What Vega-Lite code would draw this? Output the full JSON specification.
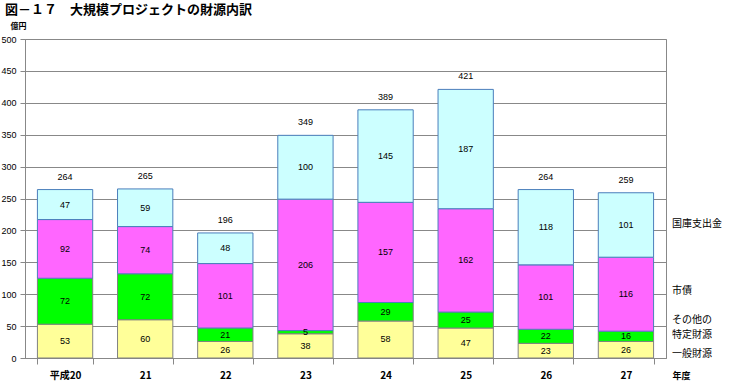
{
  "$schema": "https://vega.github.io/schema/vega-lite/v6.json",
  "width": 641,
  "height": 319,
  "autosize": {"type": "none"},
  "padding": {"left": 25, "top": 39, "right": 66, "bottom": 23},
  "background": "white",
  "title": {
    "text": "図－１７　大規模プロジェクトの財源内訳",
    "anchor": "start",
    "frame": "group",
    "dx": -20,
    "offset": -8,
    "baseline": "bottom",
    "font": "Noto Sans CJK JP",
    "fontSize": 13,
    "fontWeight": "bold",
    "color": "#000000"
  },
  "config": {
    "view": {"stroke": "#888888", "strokeWidth": 1},
    "font": "Liberation Sans",
    "axis": {"domainColor": "#888888", "tickColor": "#888888", "gridColor": "#888888", "labelColor": "#000000", "titleColor": "#000000"}
  },
  "resolve": {"axis": {"y": "independent"}},
  "datasets": {
    "fin": [
      {"year": "平成20", "series": "一般財源", "label": "一般財源", "order": 1, "value": 53},
      {"year": "平成20", "series": "その他の特定財源", "label": "その他の\n特定財源", "order": 2, "value": 72},
      {"year": "平成20", "series": "市債", "label": "市債", "order": 3, "value": 92},
      {"year": "平成20", "series": "国庫支出金", "label": "国庫支出金", "order": 4, "value": 47},
      {"year": "21", "series": "一般財源", "label": "一般財源", "order": 1, "value": 60},
      {"year": "21", "series": "その他の特定財源", "label": "その他の\n特定財源", "order": 2, "value": 72},
      {"year": "21", "series": "市債", "label": "市債", "order": 3, "value": 74},
      {"year": "21", "series": "国庫支出金", "label": "国庫支出金", "order": 4, "value": 59},
      {"year": "22", "series": "一般財源", "label": "一般財源", "order": 1, "value": 26},
      {"year": "22", "series": "その他の特定財源", "label": "その他の\n特定財源", "order": 2, "value": 21},
      {"year": "22", "series": "市債", "label": "市債", "order": 3, "value": 101},
      {"year": "22", "series": "国庫支出金", "label": "国庫支出金", "order": 4, "value": 48},
      {"year": "23", "series": "一般財源", "label": "一般財源", "order": 1, "value": 38},
      {"year": "23", "series": "その他の特定財源", "label": "その他の\n特定財源", "order": 2, "value": 5},
      {"year": "23", "series": "市債", "label": "市債", "order": 3, "value": 206},
      {"year": "23", "series": "国庫支出金", "label": "国庫支出金", "order": 4, "value": 100},
      {"year": "24", "series": "一般財源", "label": "一般財源", "order": 1, "value": 58},
      {"year": "24", "series": "その他の特定財源", "label": "その他の\n特定財源", "order": 2, "value": 29},
      {"year": "24", "series": "市債", "label": "市債", "order": 3, "value": 157},
      {"year": "24", "series": "国庫支出金", "label": "国庫支出金", "order": 4, "value": 145},
      {"year": "25", "series": "一般財源", "label": "一般財源", "order": 1, "value": 47},
      {"year": "25", "series": "その他の特定財源", "label": "その他の\n特定財源", "order": 2, "value": 25},
      {"year": "25", "series": "市債", "label": "市債", "order": 3, "value": 162},
      {"year": "25", "series": "国庫支出金", "label": "国庫支出金", "order": 4, "value": 187},
      {"year": "26", "series": "一般財源", "label": "一般財源", "order": 1, "value": 23},
      {"year": "26", "series": "その他の特定財源", "label": "その他の\n特定財源", "order": 2, "value": 22},
      {"year": "26", "series": "市債", "label": "市債", "order": 3, "value": 101},
      {"year": "26", "series": "国庫支出金", "label": "国庫支出金", "order": 4, "value": 118},
      {"year": "27", "series": "一般財源", "label": "一般財源", "order": 1, "value": 26},
      {"year": "27", "series": "その他の特定財源", "label": "その他の\n特定財源", "order": 2, "value": 16},
      {"year": "27", "series": "市債", "label": "市債", "order": 3, "value": 116},
      {"year": "27", "series": "国庫支出金", "label": "国庫支出金", "order": 4, "value": 101}
    ]
  },
  "data": {"name": "fin"},
  "encoding": {
    "x": {
      "field": "year",
      "type": "nominal",
      "sort": null,
      "scale": {"paddingInner": 0.31, "paddingOuter": 0.155},
      "axis": {
        "orient": "bottom",
        "title": "年度",
        "titleFont": "Noto Sans CJK JP",
        "titleFontSize": 9,
        "titleFontWeight": "bold",
        "titleAngle": 0,
        "titleX": 656,
        "titleY": 17,
        "titleAlign": "center",
        "titleBaseline": "middle",
        "labelAngle": 0,
        "labelFont": "Noto Sans CJK JP",
        "labelFontSize": 10,
        "labelFontWeight": "bold",
        "labelPadding": 6,
        "tickBand": "extent",
        "tickSize": 6,
        "grid": false
      }
    }
  },
  "layer": [
    {
      "mark": {"type": "bar", "strokeWidth": 1},
      "encoding": {
        "y": {
          "field": "value",
          "type": "quantitative",
          "stack": "zero",
          "scale": {"domain": [0, 500], "nice": false},
          "axis": {
            "orient": "left",
            "values": [0, 50, 100, 150, 200, 250, 300, 350, 400, 450, 500],
            "labelOverlap": false,
            "grid": true,
            "tickSize": 5,
            "labelPadding": 4,
            "labelFontSize": 9,
            "labelFont": "Liberation Sans",
            "title": "億円",
            "titleFont": "Noto Sans CJK JP",
            "titleFontSize": 8,
            "titleFontWeight": "bold",
            "titleAngle": 0,
            "titleX": -7,
            "titleY": -13,
            "titleAlign": "center",
            "titleBaseline": "middle"
          }
        },
        "order": {"field": "order", "type": "quantitative"},
        "fill": {
          "field": "series",
          "type": "nominal",
          "scale": {"domain": ["一般財源", "その他の特定財源", "市債", "国庫支出金"], "range": ["#FFFF99", "#00FF00", "#FF66FF", "#CCFFFF"]},
          "legend": null
        },
        "stroke": {
          "field": "series",
          "type": "nominal",
          "scale": {"domain": ["一般財源", "その他の特定財源", "市債", "国庫支出金"], "range": ["#808080", "#808080", "#4A7EBB", "#4A7EBB"]},
          "legend": null
        }
      }
    },
    {
      "mark": {"type": "text", "baseline": "middle", "fontSize": 9, "color": "#000000"},
      "encoding": {
        "y": {"field": "value", "type": "quantitative", "stack": "zero", "bandPosition": 0.5, "axis": null},
        "order": {"field": "order", "type": "quantitative"},
        "text": {"field": "value", "type": "quantitative"}
      }
    },
    {
      "mark": {"type": "text", "baseline": "middle", "fontSize": 9, "dy": -13, "color": "#000000"},
      "encoding": {
        "y": {"aggregate": "sum", "field": "value", "type": "quantitative", "axis": null},
        "text": {"aggregate": "sum", "field": "value", "type": "quantitative"}
      }
    },
    {
      "transform": [{"filter": "datum.year == '27'"}],
      "mark": {"type": "text", "baseline": "middle", "align": "left", "dx": 46, "dy": -1, "fontSize": 10, "font": "Noto Sans CJK JP", "lineBreak": "\n", "color": "#000000"},
      "encoding": {
        "y": {"field": "value", "type": "quantitative", "stack": "zero", "bandPosition": 0.5, "axis": null},
        "order": {"field": "order", "type": "quantitative"},
        "text": {"field": "label"},
        "opacity": {"condition": {"test": "datum.series == '国庫支出金'", "value": 1}, "value": 0}
      }
    },
    {
      "transform": [{"filter": "datum.year == '27'"}],
      "mark": {"type": "text", "baseline": "middle", "align": "left", "dx": 46, "dy": -3, "fontSize": 10, "font": "Noto Sans CJK JP", "lineBreak": "\n", "color": "#000000"},
      "encoding": {
        "y": {"field": "value", "type": "quantitative", "stack": "zero", "bandPosition": 0.5, "axis": null},
        "order": {"field": "order", "type": "quantitative"},
        "text": {"field": "label"},
        "opacity": {"condition": {"test": "datum.series == '市債'", "value": 1}, "value": 0}
      }
    },
    {
      "transform": [{"filter": "datum.year == '27'"}],
      "mark": {"type": "text", "baseline": "middle", "align": "left", "dx": 46, "dy": -16, "fontSize": 10, "lineHeight": 15, "font": "Noto Sans CJK JP", "lineBreak": "\n", "color": "#000000"},
      "encoding": {
        "y": {"field": "value", "type": "quantitative", "stack": "zero", "bandPosition": 0.5, "axis": null},
        "order": {"field": "order", "type": "quantitative"},
        "text": {"field": "label"},
        "opacity": {"condition": {"test": "datum.series == 'その他の特定財源'", "value": 1}, "value": 0}
      }
    },
    {
      "transform": [{"filter": "datum.year == '27'"}],
      "mark": {"type": "text", "baseline": "middle", "align": "left", "dx": 46, "dy": 4, "fontSize": 10, "font": "Noto Sans CJK JP", "lineBreak": "\n", "color": "#000000"},
      "encoding": {
        "y": {"field": "value", "type": "quantitative", "stack": "zero", "bandPosition": 0.5, "axis": null},
        "order": {"field": "order", "type": "quantitative"},
        "text": {"field": "label"},
        "opacity": {"condition": {"test": "datum.series == '一般財源'", "value": 1}, "value": 0}
      }
    }
  ]
}
